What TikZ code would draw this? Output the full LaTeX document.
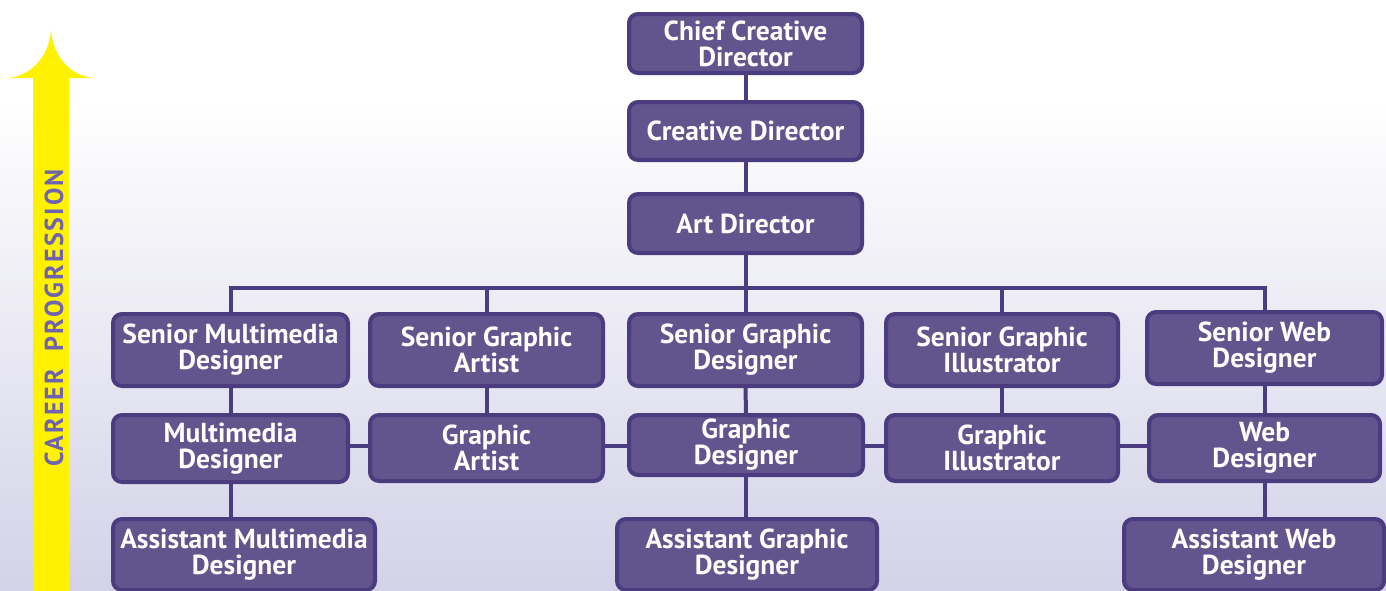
\documentclass[tikz,border=0pt]{standalone}
\usepackage{fontspec}
\setmainfont{PT Sans}
\newfontfamily\spacedfont[LetterSpace=8]{PT Sans}
\definecolor{bgbot}{RGB}{211,210,232}
\definecolor{boxfill}{RGB}{98,84,140}
\definecolor{boxline}{RGB}{74,60,126}
\definecolor{arrowy}{RGB}{255,242,0}
\definecolor{progtxt}{RGB}{111,99,176}
\tikzset{
  box/.style={draw=boxline, line width=4pt, fill=boxfill, rounded corners=9pt,
    text=white, font=\bfseries\fontsize{27.5}{26}\selectfont, align=center, inner sep=0pt},
  conn/.style={draw=boxline, line width=4pt}
}
\begin{document}
\begin{tikzpicture}[x=1pt,y=-1pt]
\useasboundingbox (0,0) rectangle (1386,590);
\clip (0,0) rectangle (1386,590);
% background
\fill[white] (0,0) rectangle (1386,100);
\shade[top color=white, bottom color=bgbot] (0,99) rectangle (1386,590);
% career arrow
\fill[arrowy] (51,30) .. controls (49,58) and (30,76) .. (8,78) -- (33,78) -- (33,595) -- (69,595) -- (69,78) -- (93,78) .. controls (72,76) and (53,58) .. (51,30) -- cycle;
\node[rotate=90, text=progtxt, font=\spacedfont\bfseries\fontsize{26}{26}\selectfont] (prog) at (54,318) {CAREER\ \ PROGRESSION};
% top boxes
\node[box, minimum width=233pt, minimum height=59pt] (ccd) at (745.5,43.5) {Chief Creative\\Director};
\node[box, minimum width=233pt, minimum height=58pt] (cd) at (745.5,131) {Creative Director};
\node[box, minimum width=233pt, minimum height=59pt] (ad) at (745.5,223.5) {Art Director};
% senior row
\node[box, minimum width=235pt, minimum height=72pt] (smd) at (230.5,350) {Senior Multimedia\\Designer};
\node[box, minimum width=233pt, minimum height=72pt] (sga) at (486.5,350) {Senior Graphic\\Artist};
\node[box, minimum width=233pt, minimum height=72pt] (sgd) at (745.5,350) {Senior Graphic\\Designer};
\node[box, minimum width=232pt, minimum height=72pt] (sgi) at (1002,350) {Senior Graphic\\Illustrator};
\node[box, minimum width=235pt, minimum height=72pt] (swd) at (1264.5,348) {Senior Web\\Designer};
% middle row
\node[box, minimum width=235pt, minimum height=67pt] (md) at (230.5,448.5) {Multimedia\\Designer};
\node[box, minimum width=233pt, minimum height=66pt] (ga) at (486.5,448) {Graphic\\Artist};
\node[box, minimum width=234pt, minimum height=60pt] (gd) at (746,445) {Graphic\\Designer};
\node[box, minimum width=232pt, minimum height=66pt] (gi) at (1002,448) {Graphic\\Illustrator};
\node[box, minimum width=231pt, minimum height=66pt] (wd) at (1264.5,448) {Web\\Designer};
% assistant row
\node[box, minimum width=262pt, minimum height=71pt] (amd) at (244,554.5) {Assistant Multimedia\\Designer};
\node[box, minimum width=260pt, minimum height=71pt] (agd) at (747,554.5) {Assistant Graphic\\Designer};
\node[box, minimum width=260pt, minimum height=71pt] (awd) at (1254,554.5) {Assistant Web\\Designer};
% connectors
\coordinate (bus) at (0,288);
\coordinate (mid) at (0,446);
\draw[conn] (ccd.south) -- (cd.north);
\draw[conn] (cd.south) -- (ad.north);
\draw[conn] (ad.south) -- (ad.south |- bus);
\draw[conn] (smd.north) -- (smd.north |- bus) -- (swd.north |- bus) -- (swd.north);
\draw[conn] (sga.north) -- (sga.north |- bus);
\draw[conn] (sgd.north) -- (sgd.north |- bus);
\draw[conn] (sgi.north) -- (sgi.north |- bus);
\draw[conn] (smd.south) -- (md.north);
\draw[conn] (sga.south) -- (ga.north);
\draw[conn] (sgd.south) -- (gd.north);
\draw[conn] (sgi.south) -- (gi.north);
\draw[conn] (swd.south) -- (wd.north);
\draw[conn] (md.south) -- (md.south |- amd.north);
\draw[conn] (gd.south) -- (gd.south |- agd.north);
\draw[conn] (wd.south) -- (wd.south |- awd.north);
\draw[conn] (md.east |- mid) -- (ga.west |- mid);
\draw[conn] (ga.east |- mid) -- (gd.west |- mid);
\draw[conn] (gd.east |- mid) -- (gi.west |- mid);
\draw[conn] (gi.east |- mid) -- (wd.west |- mid);
\end{tikzpicture}
\end{document}
